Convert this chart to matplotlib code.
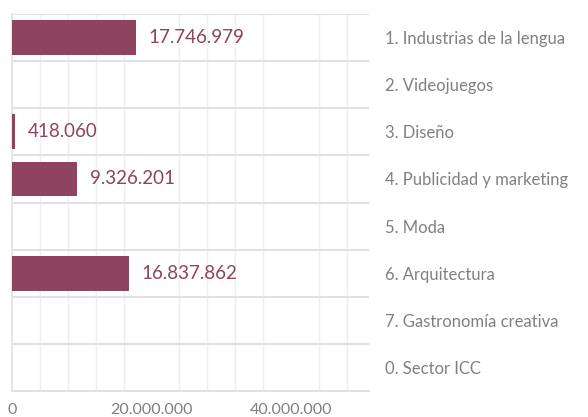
import matplotlib
matplotlib.use("Agg")
import matplotlib.pyplot as plt
from matplotlib.ticker import MultipleLocator, FixedLocator
import numpy as np

categories = ["1. Industrias de la lengua", "2. Videojuegos", "3. Diseño",
              "4. Publicidad y marketing", "5. Moda", "6. Arquitectura",
              "7. Gastronomía creativa", "0. Sector ICC"]
values = [17746979, None, 418060, 9326201, None, 16837862, None, None]
x_ticks = [0, 20000000, 40000000]

BAR = "#8e435e"
GRAY = "#808080"
plt.rcParams['font.family'] = ['Lato', 'DejaVu Sans']

fig = plt.figure(figsize=(5.88, 4.17), dpi=100)
ax = fig.add_axes([12/588, 26/417, 357/588, 377/417])

n = len(categories)
ypos = np.arange(n)
for i, v in enumerate(values):
    if v is None:
        continue
    ax.barh(i, v, height=0.74, color=BAR, zorder=3)
    lbl = f"{v:,}".replace(",", ".")
    ax.annotate(lbl, (v, i), xytext=(9, 0), textcoords="offset points",
                va="center", ha="left", color=BAR, fontsize=13.5, zorder=4)

ax.set_xlim(0, 51.2e6)
ax.set_ylim(n - 0.5, -0.5)

ax.xaxis.set_major_locator(FixedLocator(x_ticks))
ax.set_xticklabels([f"{t:,}".replace(",", ".") for t in x_ticks])
ax.xaxis.set_minor_locator(MultipleLocator(4e6))
ax.tick_params(axis="x", which="both", length=0, pad=9, labelsize=11.5, labelcolor=GRAY)
ax.grid(axis="x", which="minor", color="#efeff3", linewidth=1, zorder=0)

ax.yaxis.tick_right()
ax.set_yticks(ypos)
ax.set_yticklabels(categories)
ax.yaxis.set_minor_locator(FixedLocator(np.arange(n + 1) - 0.5))
ax.tick_params(axis="y", which="both", length=0, pad=11.5, labelsize=12, labelcolor=GRAY)
for lab in ax.get_yticklabels():
    lab.set_horizontalalignment("left")
ax.grid(axis="y", which="minor", color="#e0e0e6", linewidth=1.5, zorder=1)

for s in ["top", "right"]:
    ax.spines[s].set_visible(False)
ax.spines["left"].set_color("#e0e0e6")
ax.spines["left"].set_linewidth(1.2)
ax.spines["bottom"].set_color("#e0e0e6")
ax.spines["bottom"].set_linewidth(1.5)

fig.savefig("out.png", dpi=100, facecolor="white")
